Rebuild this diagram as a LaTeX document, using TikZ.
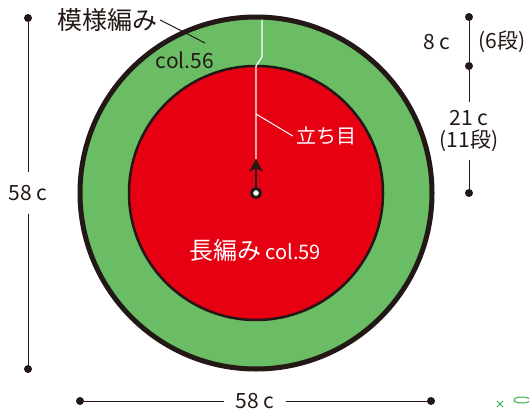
\documentclass[tikz,border=0pt]{standalone}
\usepackage{fontspec}
\setmainfont{Noto Sans CJK JP}
\usepackage{tikz}
\definecolor{inkblack}{HTML}{231815}
\definecolor{knitgreen}{HTML}{6ABD65}
\definecolor{knitred}{HTML}{E60012}
\definecolor{markgreen}{HTML}{2DB34A}
\tikzset{
  dimdot/.style = {circle, fill=inkblack, inner sep=0pt, minimum size=8pt},% dimension end point
  dimline/.style = {draw=inkblack, line width=1pt},
  dimlabel/.style = {text=inkblack, inner sep=0pt, align=center,
    font=\fontsize{21}{22}\selectfont},
  ringouter/.style = {draw=inkblack, fill=knitgreen, line width=5pt},
  ringinner/.style = {draw=inkblack, fill=knitred, line width=2.5pt},
  darklabel/.style = {text=inkblack, inner sep=3pt, font=\fontsize{21}{22}\selectfont},
  whitelabel/.style = {text=white, inner sep=3pt, font=\fontsize{20}{22}\selectfont},
  centerdot/.style = {circle, draw=inkblack, fill=white, line width=3pt,
    inner sep=0pt, minimum size=9pt}
}

\begin{document}
\begin{tikzpicture}[x=1pt,y=-1pt]
  \useasboundingbox (0,0) rectangle (529,412);
  % the two rings
  \draw[ringouter] (256,193) circle[radius=176pt];
  \draw[ringinner] (256,193) circle[radius=127pt];

  % start of rounds
  \coordinate (arrowtip) at (256,159);
  \coordinate (arrowbase) at (256,168);
  \coordinate (seamtop) at (262,20);
  \coordinate (seambend) at (262,57);
  \coordinate (seamjog) at (256,66);
  \coordinate (seamhook) at (256,114);
  \draw[white, line width=1.3pt] (seamtop) -- (seambend) -- (seamjog) -- (arrowtip);
  \node[centerdot] (center) at (256,193) {};
  \draw[inkblack, line width=1.5pt] (center) -- (arrowbase);
  \fill[inkblack] (arrowtip) -- (263,172) -- (arrowbase) -- (249,172) -- cycle;
  \node[whitelabel] (standlabel) at (326,136) {立ち目};
  \draw[white, line width=1pt] (seamhook) -- (standlabel.west);

  % labels
  \node[darklabel, font=\fontsize{25}{26}\selectfont] (patternname) at (107,20) {模様編み};
  \coordinate (patternpt) at (205,43);
  \draw[inkblack, line width=1pt] (patternname.east) -- (patternpt);
  \node[darklabel] (outercol) at (185,60) {col.56};
  \node[whitelabel] (innerlabel) at (255,250)
    {{\fontsize{24}{26}\selectfont 長編み} col.59};

  % left dimension
  \node[dimdot] (lefttop) at (28,18) {};
  \node[dimdot] (leftbot) at (28,369) {};
  \node[dimlabel, inner ysep=13pt] (leftlabel) at (28,193) {58 c};
  \draw[dimline] (lefttop) -- (leftlabel) -- (leftbot);

  % bottom dimension
  \node[dimdot] (botleft) at (80,401) {};
  \node[dimdot] (botright) at (431,401) {};
  \node[dimlabel, inner xsep=11pt] (botlabel) at (255,401) {58 c};
  \draw[dimline] (botleft) -- (botlabel) -- (botright);

  % right dimension
  \node[dimdot] (righttop) at (469,17) {};
  \node[dimdot] (rightmid) at (469,66) {};
  \node[dimdot] (rightbot) at (469,193) {};
  \draw[dimline] (righttop) -- (rightmid);
  \node[dimlabel] (greenrows) at (437,42) {8 c};
  \node[dimlabel] (greencount) at (502,42) {(6段)};
  \node[dimlabel, inner ysep=8pt] (redrows) at (469,131) {21 c\\(11段)};
  \draw[dimline] (rightmid) -- (redrows) -- (rightbot);

  % stitch marks in the corner
  \draw[markgreen, line width=1pt] (497,401) -- (503,407) (497,407) -- (503,401);
  \draw[markgreen, line width=1pt] (522,400) ellipse[x radius=8pt, y radius=3pt];
\end{tikzpicture}
\end{document}
